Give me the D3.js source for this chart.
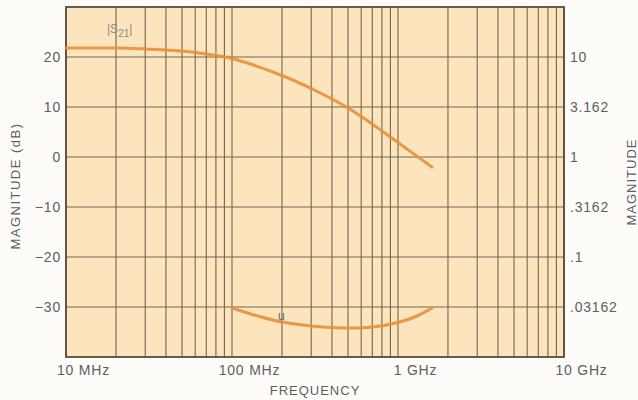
<!DOCTYPE html>
<html>
<head>
<meta charset="utf-8">
<script src="https://cdn.jsdelivr.net/npm/d3@7"></script>
<style>
  html, body { margin: 0; padding: 0; background: #fdfcf9; }
  svg { display: block; }
  text { font-family: "Liberation Sans", Arial, Helvetica, sans-serif; }
</style>
</head>
<body>
<svg id="chart" width="638" height="400"></svg>
<script>
// ---- data ----
const freqTicks = [1e7, 1e8, 1e9, 1e10];
const freqLabels = ["10 MHz", "100 MHz", "1 GHz", "10 GHz"];
const dbTicks = [-30, -20, -10, 0, 10, 20];
const dbLabels = ["\u221230", "\u221220", "\u221210", "0", "10", "20"];
const magLabels = [".03162", ".1", ".3162", "1", "3.162", "10"];

// |S21| in dB vs frequency (Hz)
const s21Freq = [1e7, 2e7, 3e7, 4e7, 5e7, 6e7, 7e7, 8e7, 1e8, 2e8, 3e8, 4e8, 5e8, 6e8, 7e8, 8e8, 9e8, 1e9, 1.6e9];
const s21Db   = [21.8, 21.8, 21.6, 21.4, 21.2, 20.9, 20.6, 20.3, 19.7, 16.3, 13.7, 11.6, 9.8, 8.1, 6.6, 5.2, 4.0, 2.9, -2.0];

// u in dB vs frequency (Hz)
const uFreq = [1e8, 1.5e8, 2e8, 3e8, 4e8, 5e8, 7e8, 1e9, 1.3e9, 1.6e9];
const uDb   = [-30.2, -32.0, -33.0, -33.8, -34.1, -34.2, -34.0, -33.1, -31.8, -30.2];

// ---- layout ----
const svg = d3.select("#chart");
const L = 66, R = 564, T = 7, B = 357;
const x = d3.scaleLog().domain([1e7, 1e10]).range([L, R]);
const y = d3.scaleLinear().domain([-40, 30]).range([B, T]);

const gridColor = "#76664f";
const textColor = "#5e5e5e";
const curveColor = "#e88f38";

// plot background
svg.append("rect").attr("x", L).attr("y", T).attr("width", R - L).attr("height", B - T)
  .attr("fill", "#fce4bd");

// vertical log grid
svg.append("g").selectAll("line").data(x.ticks()).join("line")
  .attr("x1", d => x(d)).attr("x2", d => x(d))
  .attr("y1", T).attr("y2", B)
  .attr("stroke", gridColor).attr("stroke-width", 1.1);

// horizontal grid
svg.append("g").selectAll("line").data(dbTicks).join("line")
  .attr("x1", L).attr("x2", R)
  .attr("y1", d => y(d)).attr("y2", d => y(d))
  .attr("stroke", gridColor).attr("stroke-width", 1.1);

// border
svg.append("rect").attr("x", L).attr("y", T).attr("width", R - L).attr("height", B - T)
  .attr("fill", "none").attr("stroke", "#5a4c3c").attr("stroke-width", 1.8);

// curves
const line = d3.line().x(d => x(d[0])).y(d => y(d[1])).curve(d3.curveCatmullRom.alpha(0.5));
svg.append("path").datum(s21Freq.map((f, i) => [f, s21Db[i]]))
  .attr("d", line).attr("fill", "none").attr("stroke", curveColor)
  .attr("stroke-width", 3).attr("stroke-linecap", "round").attr("opacity", 0.9);
svg.append("path").datum(uFreq.map((f, i) => [f, uDb[i]]))
  .attr("d", line).attr("fill", "none").attr("stroke", curveColor)
  .attr("stroke-width", 3).attr("stroke-linecap", "round").attr("opacity", 0.9);

// axes
function styleAxis(g) {
  g.select(".domain").remove();
  g.selectAll("line").remove();
  g.selectAll("text").attr("fill", textColor).style("font-size", "14px")
    .style("letter-spacing", "0.8px")
    .style("font-family", "'Liberation Sans', Arial, sans-serif");
}
svg.append("g").attr("transform", `translate(0,${B})`)
  .call(d3.axisBottom(x).tickValues(freqTicks).tickFormat((d, i) => freqLabels[i]).tickSize(0).tickPadding(8))
  .call(styleAxis)
  .call(g => g.selectAll("text").attr("dx", 17));

svg.append("g").attr("transform", `translate(${L},0)`)
  .call(d3.axisLeft(y).tickValues(dbTicks).tickFormat((d, i) => dbLabels[i]).tickSize(0).tickPadding(5))
  .call(styleAxis);

svg.append("g").attr("transform", `translate(${R},0)`)
  .call(d3.axisRight(y).tickValues(dbTicks).tickFormat((d, i) => magLabels[i]).tickSize(0).tickPadding(6))
  .call(styleAxis);

// axis titles
svg.append("text").attr("x", 315).attr("y", 395).attr("text-anchor", "middle")
  .attr("fill", textColor).style("font-size", "13px").style("letter-spacing", "1px")
  .text("FREQUENCY");
svg.append("text").attr("transform", "translate(20,186) rotate(-90)").attr("text-anchor", "middle")
  .attr("fill", textColor).style("font-size", "13px").style("letter-spacing", "1.5px")
  .text("MAGNITUDE (dB)");
svg.append("text").attr("transform", "translate(636,182) rotate(-90)").attr("text-anchor", "middle")
  .attr("fill", textColor).style("font-size", "13px").style("letter-spacing", "1px")
  .text("MAGNITUDE");

// curve labels
const s21Label = svg.append("text").attr("x", 107).attr("y", 33)
  .attr("fill", "#8a8a8a").style("font-size", "12px");
s21Label.append("tspan").text("|S");
s21Label.append("tspan").attr("dy", 4).style("font-size", "10px").text("21");
s21Label.append("tspan").attr("dy", -4).text("|");

svg.append("text").attr("x", 278).attr("y", 320)
  .attr("fill", "#666").style("font-size", "12px").text("u");
</script>
</body>
</html>
